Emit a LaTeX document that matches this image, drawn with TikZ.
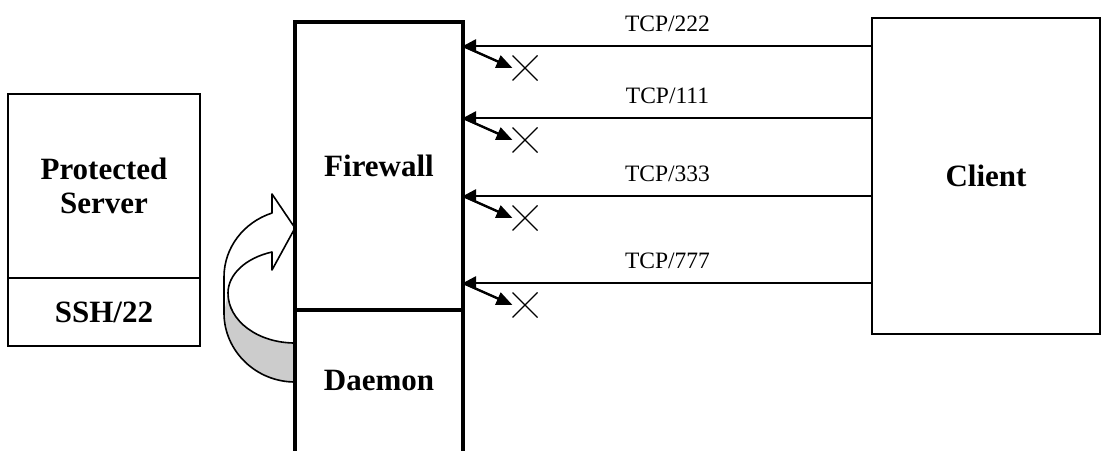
\documentclass[tikz,border=0pt]{standalone}
\usepackage{fontspec}
\setmainfont{Liberation Serif}
\usetikzlibrary{arrows.meta,shapes.misc}

\tikzset{
  every node/.style={outer sep=0pt},
  box/.style={draw, line width=1pt, align=center,
    font=\fontsize{15.5}{17}\selectfont\bfseries},
  fwbox/.style={box, line width=2pt},
  fwline/.style={line width=2pt},
  tcp/.style={line width=1.3pt, -{Triangle[length=6.5pt,width=6.5pt]}},
  blocked/.style={line width=1.2pt, -{Triangle[length=8pt,width=6.5pt]}},
  port/.style={yshift=11pt, font=\fontsize{11.75}{13}\selectfont},
  xmark/.style={cross out, draw, line width=0.6pt, minimum size=12.5pt, inner sep=0pt},
  ribbon/.style={line width=0.8pt, line join=round}
}

\begin{document}
\begin{tikzpicture}[x=0.5pt, y=-0.5pt]
  \useasboundingbox (0,0) rectangle (1108,450);

  % curved arrow: daemon opens the firewall
  \fill[white] (295,228) -- (272,194) -- (272,213)
    .. controls (243.3,222.4) and (224,248) .. (224,277) -- (224,313)
    .. controls (224,351) and (256,382) .. (295,382) -- (295,343)
    .. controls (258,343) and (228,321) .. (228,293)
    .. controls (228,274.5) and (245.5,258) .. (272,252) -- (272,270) -- cycle;
  \fill[black!20] (224,313) .. controls (224,351) and (256,382) .. (295,382)
    -- (295,343) .. controls (258,343) and (228,321) .. (228,293) -- cycle;
  \draw[ribbon] (295,228) -- (272,194) -- (272,213)
    .. controls (243.3,222.4) and (224,248) .. (224,277) -- (224,313)
    .. controls (224,351) and (256,382) .. (295,382) -- (295,343)
    .. controls (258,343) and (228,321) .. (228,293)
    .. controls (228,274.5) and (245.5,258) .. (272,252) -- (272,270) -- cycle;

  % boxes
  \node[box, minimum width=96pt, minimum height=92pt] (server) at (104,186) {Protected\\Server};
  \node[box, minimum width=96pt, minimum height=34pt, anchor=north] (ssh) at (server.south) {SSH/22};
  \node[fwbox, minimum width=84pt, minimum height=144pt] (fw) at (379,166) {Firewall};
  \draw[fwline] (fw.south west) -- (fw.south west |- 0,452);
  \draw[fwline] (fw.south east) -- (fw.south east |- 0,452);
  \node[font=\fontsize{15.5}{17}\selectfont\bfseries] (daemon) at (379,380) {Daemon};
  \node[box, minimum width=114pt, minimum height=158pt] (client) at (986,176) {Client};

  % connection attempts
  \foreach \y/\port [count=\i] in {46/222,118/111,196/333,283/777}{
    \coordinate (in\i) at (fw.east |- 0,\y);
    \node[xmark] (xm\i) at ({525},{\y+22}) {};
    \draw[tcp] (client.west |- in\i) -- node[port] {TCP/\port} (in\i);
    \draw[blocked] (in\i) -- (xm\i.west);
  }
\end{tikzpicture}
\end{document}
